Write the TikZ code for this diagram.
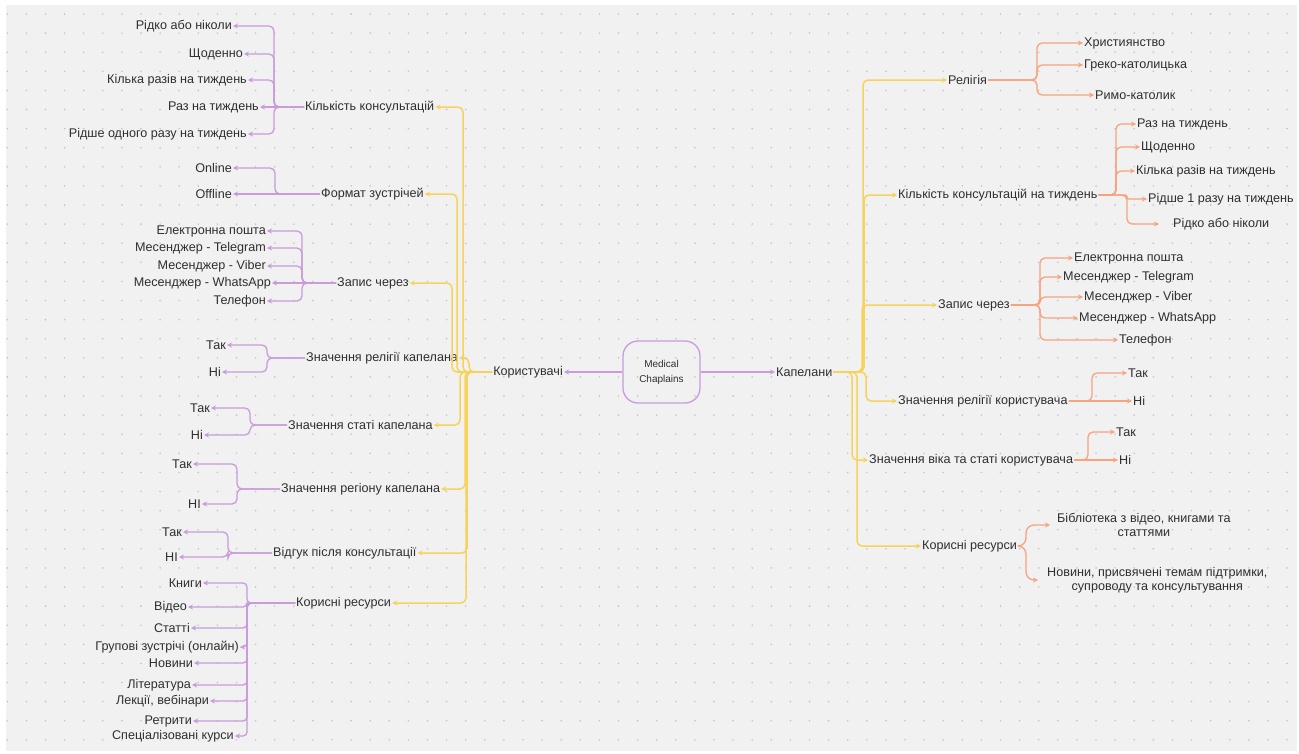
\documentclass[tikz,border=0pt]{standalone}
\usepackage{fontspec}
\setmainfont{Liberation Sans}
\usetikzlibrary{arrows.meta}
\definecolor{bgc}{HTML}{F1F1F1}
\definecolor{dotc}{HTML}{C4C4C4}
\definecolor{ink}{HTML}{2F2F2F}
\definecolor{purp}{HTML}{C99BDB}
\definecolor{yel}{HTML}{F6D35A}
\definecolor{ora}{HTML}{F7A37F}
\begin{document}
\begin{tikzpicture}[x=1pt,y=-1pt,
  txt/.style={font=\fontsize{12.6}{14.5}\selectfont, text=ink, inner sep=1pt},
  lc/.style={txt, anchor=east},
  rc/.style={txt, anchor=west},
  conn/.style={line width=1.3pt, rounded corners=5pt, -{Stealth[length=5pt,width=5pt]}},
  pbr/.style={conn, draw=purp},
  ybr/.style={conn, draw=yel, line width=1.5pt},
  obr/.style={conn, draw=ora}]
\useasboundingbox (0,0) rectangle (1299,753);
\fill[white] (0,0) rectangle (1299,753);
\fill[bgc] (6,5) rectangle (1297,751);
\foreach \i in {0,...,67}{\foreach \j in {0,...,38}{\fill[dotc] ({7.3+19.1*\i},{14+19.1*\j}) circle (0.9);}}

% centre
\node[draw=purp, line width=1.3pt, rounded corners=15pt, minimum width=77pt, minimum height=62pt, align=center, font=\fontsize{10}{15}\selectfont, text=ink] (root) at (661.5,372) {Medical\\Chaplains};
\node[lc] (kor) at (564,372) {Користувачі};
\node[rc] (kap) at (775,372) {Капелани};
\draw[pbr] (root.west) -- (kor.east);
\draw[pbr] (root.east) -- (kap.west);

% trunk coordinates (x only)
\coordinate (yl1) at (463,0); \coordinate (yl2) at (457,0); \coordinate (yl3) at (452,0);
\coordinate (yl4) at (469,0); \coordinate (yl5) at (460,0); \coordinate (yl6) at (465,0);
\coordinate (yl7) at (467,0); \coordinate (yl8) at (466,0);
\coordinate (yr1) at (863,0); \coordinate (yr2) at (864,0); \coordinate (yr3) at (862,0);
\coordinate (yr4) at (866,0); \coordinate (yr5) at (852,0); \coordinate (yr6) at (857,0);

% left parents
\node[rc] (p1) at (304,107) {Кількість консультацій};
\node[rc] (p2) at (320,194) {Формат зустрічей};
\node[rc] (p3) at (336,283) {Запис через};
\node[rc] (p4) at (305,358) {Значення релігії капелана};
\node[rc] (p5) at (287,425) {Значення статі капелана};
\node[rc] (p6) at (280,489) {Значення регіону капелана};
\node[rc] (p7) at (272,553) {Відгук після консультації};
\node[rc] (p8) at (295,603) {Корисні ресурси};
\foreach \k in {1,...,8}{\draw[ybr] (kor.west) -- (kor.west -| yl\k) |- (p\k.east);}

% left children
\coordinate (t1) at (274,0);
\node[lc] (c11) at (233,26) {Рідко або ніколи};
\node[lc] (c12) at (244,54) {Щоденно};
\node[lc] (c13) at (248,80) {Кілька разів на тиждень};
\node[lc] (c14) at (260,107) {Раз на тиждень};
\node[lc] (c15) at (248,134) {Рідше одного разу на тиждень};
\foreach \c in {c11,c12,c13,c15}{\draw[pbr] (p1.west) -- (p1.west -| t1) |- (\c.east);}
\draw[pbr] (p1.west) -- (c14.east);

\coordinate (t2) at (275,0);
\node[lc] (c21) at (233,168) {Online};
\node[lc] (c22) at (233,194) {Offline};
\draw[pbr] (p2.west) -- (p2.west -| t2) |- (c21.east);
\draw[pbr] (p2.west) -- (c22.east);

\coordinate (t3) at (302,0);
\node[lc] (c31) at (267,231) {Електронна пошта};
\node[lc] (c32) at (267,248) {Месенджер - Telegram};
\node[lc] (c33) at (267,266) {Месенджер - Viber};
\node[lc] (c34) at (272,283) {Месенджер - WhatsApp};
\node[lc] (c35) at (267,301) {Телефон};
\foreach \c in {c31,c32,c33,c35}{\draw[pbr] (p3.west) -- (p3.west -| t3) |- (\c.east);}
\draw[pbr] (p3.west) -- (c34.east);

\coordinate (t4) at (267,0);
\node[lc] (c41) at (227,345) {Так};
\node[lc] (c42) at (222,372) {Ні};
\foreach \c in {c41,c42}{\draw[pbr] (p4.west) -- (p4.west -| t4) |- (\c.east);}

\coordinate (t5) at (250,0);
\node[lc] (c51) at (211,408) {Так};
\node[lc] (c52) at (204,435) {Ні};
\foreach \c in {c51,c52}{\draw[pbr] (p5.west) -- (p5.west -| t5) |- (\c.east);}

\coordinate (t6) at (237,0);
\node[lc] (c61) at (193,464) {Так};
\node[lc] (c62) at (202,504) {НІ};
\foreach \c in {c61,c62}{\draw[pbr] (p6.west) -- (p6.west -| t6) |- (\c.east);}

\coordinate (t7) at (228,0);
\node[lc] (c71) at (183,532) {Так};
\node[lc] (c72) at (179,557) {НІ};
\foreach \c in {c71,c72}{\draw[pbr] (p7.west) -- (p7.west -| t7) |- (\c.east);}

\coordinate (t8) at (247,0);
\node[lc] (c81) at (203,583) {Книги};
\node[lc] (c82) at (188,607) {Відео};
\node[lc] (c83) at (191,628) {Статті};
\node[lc] (c84) at (240,647) {Групові зустрічі (онлайн)};
\node[lc] (c85) at (194,663) {Новини};
\node[lc] (c86) at (192,685) {Література};
\node[lc] (c87) at (210,701) {Лекції, вебінари};
\node[lc] (c88) at (193,721) {Ретрити};
\node[lc] (c89) at (235,736) {Спеціалізовані курси};
\foreach \c in {c81,c82,c83,c84,c85,c86,c87,c88,c89}{\draw[pbr, rounded corners=4pt] (p8.west) -- (p8.west -| t8) |- (\c.east);}

% right parents
\node[rc] (r1) at (947,80) {Релігія};
\node[rc] (r2) at (897,195) {Кількість консультацій на тиждень};
\node[rc] (r3) at (937,305) {Запис через};
\node[rc] (r4) at (897,401) {Значення релігії користувача};
\node[rc] (r5) at (868,460) {Значення віка та статі користувача};
\node[rc] (r6) at (921,546) {Корисні ресурси};
\foreach \k in {1,...,6}{\draw[ybr] (kap.east) -- (kap.east -| yr\k) |- (r\k.west);}

% right children
\coordinate (o1) at (1037,0);
\node[rc] (d11) at (1083,43) {Християнство};
\node[rc] (d12) at (1083,65) {Греко-католицька};
\node[rc] (d13) at (1094,95) {Римо-католик};
\foreach \c in {d11,d12,d13}{\draw[obr] (r1.east) -- (r1.east -| o1) |- (\c.west);}

\coordinate (o2) at (1116,0); \coordinate (o2b) at (1127,0);
\node[rc] (d21) at (1136,124) {Раз на тиждень};
\node[rc] (d22) at (1140,147) {Щоденно};
\node[rc] (d23) at (1135,171) {Кілька разів на тиждень};
\node[rc] (d24) at (1147,199) {Рідше 1 разу на тиждень};
\node[rc] (d25) at (1172,224) {Рідко або ніколи};
\foreach \c in {d21,d22,d23}{\draw[obr] (r2.east) -- (r2.east -| o2) |- (\c.west);}
\draw[obr, rounded corners=2pt] (r2.east) -- (r2.east -| o2b) |- (d24.west);
\draw[obr, shorten >=13pt] (r2.east) -- (r2.east -| o2b) |- (d25.west);

\coordinate (o3) at (1040,0);
\node[rc] (d31) at (1073,258) {Електронна пошта};
\node[rc] (d32) at (1062,277) {Месенджер - Telegram};
\node[rc] (d33) at (1083,297) {Месенджер - Viber};
\node[rc] (d34) at (1078,318) {Месенджер - WhatsApp};
\node[rc] (d35) at (1118,340) {Телефон};
\foreach \c in {d31,d32,d33,d34,d35}{\draw[obr] (r3.east) -- (r3.east -| o3) |- (\c.west);}

\coordinate (o4) at (1092,0);
\node[rc] (d41) at (1127,373) {Так};
\node[rc] (d42) at (1132,401) {Ні};
\draw[obr] (r4.east) -- (r4.east -| o4) |- (d41.west);
\draw[obr] (r4.east) -- (d42.west);

\coordinate (o5) at (1088,0);
\node[rc] (d51) at (1115,432) {Так};
\node[rc] (d52) at (1118,460) {Ні};
\draw[obr] (r5.east) -- (r5.east -| o5) |- (d51.west);
\draw[obr] (r5.east) -- (d52.west);

\coordinate (o6) at (1026,0);
\node[rc, align=center, inner xsep=7pt] (d61) at (1050,525) {Бібліотека з відео, книгами та\\статтями};
\node[rc, align=center, inner xsep=9pt] (d62) at (1038,580) {Новини, присвячені темам підтримки,\\супроводу та консультування};
\foreach \c in {d61,d62}{\draw[obr, rounded corners=8pt] (r6.east) -- (r6.east -| o6) |- (\c.west);}
\end{tikzpicture}
\end{document}
